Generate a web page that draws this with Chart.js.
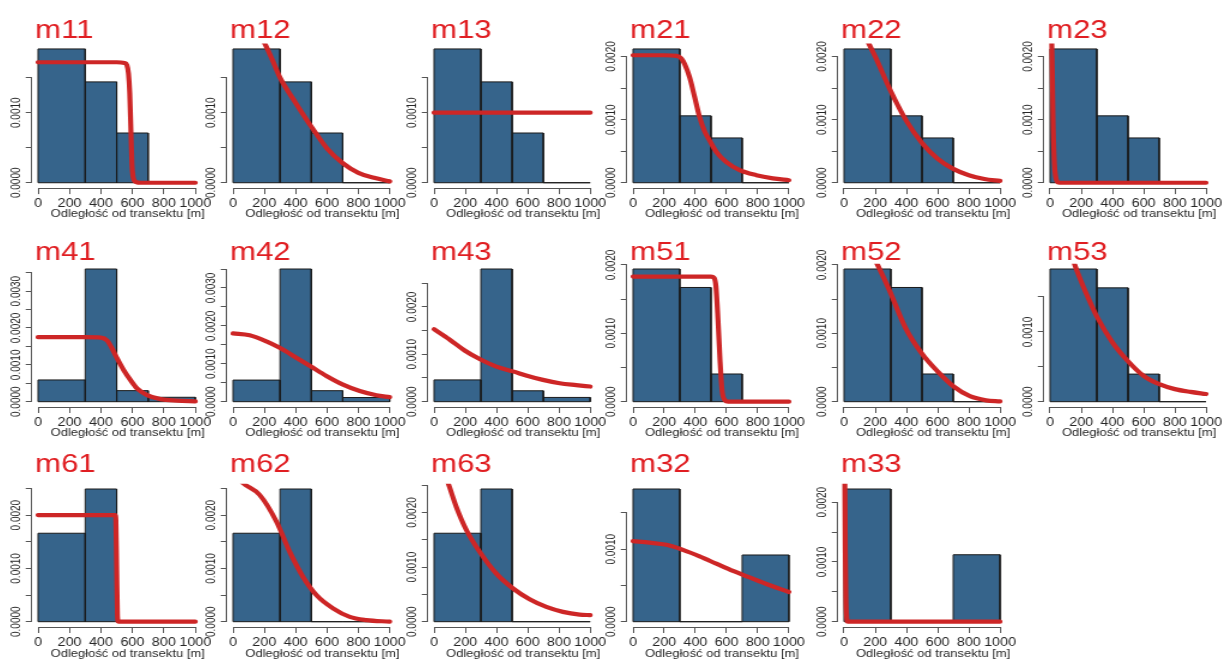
<!DOCTYPE html>
<html>
<head>
<meta charset="utf-8">
<script src="https://cdn.jsdelivr.net/npm/chart.js@4.4.1/dist/chart.umd.min.js"></script>
<style>
  html, body { margin: 0; padding: 0; background: #fff; }
  body { width: 1230px; height: 662px; position: relative; overflow: hidden; }
  canvas { position: absolute; transform-origin: 0 0; }
</style>
</head>
<body>
<script>
// bin edges of the histograms [m]
var edges4 = [0, 300, 500, 700, 1000];
var edges3 = [0, 300, 700, 1000];
var xTicks = [0, 200, 400, 600, 800, 1000];
var yStep = 0.0005;
var xTitle = 'Odległość od transektu [m]';

// histogram densities
var barsM1 = [0.00191, 0.00144, 0.00071, 0];
var barsM2 = [0.00212, 0.00106, 0.00071, 0];
var barsM41 = [0.00059, 0.0036, 0.0003, 0.00012];
var barsM42 = [0.00057, 0.0035, 0.00029, 0.00011];
var barsM43 = [0.00046, 0.0028, 0.00023, 0.00009];
var barsM5 = [0.00194, 0.00167, 0.000405, 0];
var barsM53 = [0.0019, 0.00163, 0.000395, 0];
var barsM6 = [0.00166, 0.00249, 0, 0];
var barsM63 = [0.00162, 0.00243, 0, 0];
var barsM32 = [0.00183, 0, 0.00092];
var barsM33 = [0.00222, 0, 0.00112];

// fitted detection functions
var curveXM11 = [0, 100, 200, 300, 400, 500, 550, 565, 575, 583, 591, 597, 604, 612, 625, 650, 700, 800, 900, 1000];
var curveYM11 = [0.00172, 0.00172, 0.00172, 0.00172, 0.00172, 0.00172, 0.00171, 0.00168, 0.00156, 0.00128, 0.00071, 0.00027, 0.00009, 0.00003, 0.00001, 0, 0, 0, 0, 0];
var curveXM12 = [0, 100, 200, 250, 300, 400, 500, 600, 700, 800, 900, 1000];
var curveYM12 = [0.0027, 0.0024, 0.002, 0.00176, 0.0015, 0.00114, 0.0008, 0.00049, 0.00028, 0.00014, 0.00007, 0.00002];
var curveXM13 = [0, 1000];
var curveYM13 = [0.001, 0.001];
var curveXM21 = [0, 100, 200, 280, 310, 331, 363, 395, 427, 460, 491, 534, 598, 684, 791, 897, 1000];
var curveYM21 = [0.00202, 0.00202, 0.00202, 0.00201, 0.00197, 0.00188, 0.00167, 0.00136, 0.00104, 0.00081, 0.00067, 0.00049, 0.00033, 0.0002, 0.00012, 0.00007, 0.00004];
var curveXM22 = [0, 100, 160, 200, 300, 400, 500, 600, 700, 800, 900, 1000];
var curveYM22 = [0.0029, 0.0025, 0.0022, 0.002, 0.00145, 0.00098, 0.00063, 0.00038, 0.00022, 0.00012, 0.00006, 0.00003];
var curveXM23 = [0, 8, 14, 20, 28, 36, 45, 60, 200, 1000];
var curveYM23 = [0.008, 0.003, 0.0018, 0.0009, 0.0003, 0.0001, 0.00002, 0, 0, 0];
var curveXM41 = [0, 100, 200, 300, 400, 439, 470, 502, 544, 587, 629, 693, 778, 883, 1000];
var curveYM41 = [0.00175, 0.00175, 0.00175, 0.00175, 0.00174, 0.00166, 0.00145, 0.00118, 0.00086, 0.00059, 0.00036, 0.00018, 0.00007, 0.00003, 0.00001];
var curveXM42 = [0, 106, 213, 298, 404, 500, 596, 702, 809, 915, 1000];
var curveYM42 = [0.0018, 0.00175, 0.00159, 0.00142, 0.00116, 0.00092, 0.00068, 0.00045, 0.00028, 0.00017, 0.00012];
var curveXM43 = [0, 100, 196, 292, 399, 505, 601, 697, 804, 910, 1000];
var curveYM43 = [0.00153, 0.00131, 0.00108, 0.0009, 0.00074, 0.00064, 0.00054, 0.00046, 0.00039, 0.00035, 0.00032];
var curveXM51 = [0, 100, 200, 300, 400, 500, 520, 532, 545, 558, 571, 590, 610, 700, 800, 900, 1000];
var curveYM51 = [0.00183, 0.00183, 0.00183, 0.00183, 0.00183, 0.00183, 0.00181, 0.00168, 0.0012, 0.00061, 0.00017, 0.00002, 0, 0, 0, 0, 0];
var curveXM52 = [0, 100, 209, 291, 394, 497, 601, 704, 807, 910, 1000];
var curveYM52 = [0.0028, 0.0025, 0.00203, 0.00163, 0.00108, 0.00071, 0.00044, 0.00022, 0.00008, 0.00002, 0.000005];
var curveXM53 = [0, 100, 154, 200, 250, 300, 400, 500, 600, 700, 800, 900, 1000];
var curveYM53 = [0.0029, 0.0024, 0.00199, 0.00172, 0.00146, 0.00122, 0.00085, 0.00058, 0.00037, 0.00025, 0.00018, 0.00014, 0.00011];
var curveXM61 = [0, 250, 490, 495, 500, 505, 510, 750, 1000];
var curveYM61 = [0.002, 0.002, 0.002, 0.0019, 0.001, 0.0001, 0, 0, 0];
var curveXM62 = [0, 64, 170, 277, 362, 447, 532, 638, 745, 851, 1000];
var curveYM62 = [0.0028, 0.0026, 0.00238, 0.00188, 0.00131, 0.00084, 0.0005, 0.00025, 0.00009, 0.00003, 0];
var curveXM63 = [0, 90, 143, 207, 292, 399, 505, 612, 719, 825, 932, 1000];
var curveYM63 = [0.0032, 0.00254, 0.0021, 0.00168, 0.00128, 0.00088, 0.00061, 0.00041, 0.00027, 0.00018, 0.00013, 0.00012];
var curveXM32 = [0, 107, 214, 320, 427, 534, 641, 748, 855, 1000];
var curveYM32 = [0.00111, 0.00109, 0.00106, 0.00099, 0.0009, 0.0008, 0.0007, 0.00061, 0.00052, 0.00041];
var curveXM33 = [0, 4, 8, 12, 16, 24, 1000];
var curveYM33 = [0.006, 0.0028, 0.0012, 0.0004, 0.0001, 0, 0];

var panels = [
    { name: 'm11', col: 0, row: 0, edges: edges4, bars: barsM1, cx: curveXM11, cy: curveYM11 },
    { name: 'm12', col: 1, row: 0, edges: edges4, bars: barsM1, cx: curveXM12, cy: curveYM12 },
    { name: 'm13', col: 2, row: 0, edges: edges4, bars: barsM1, cx: curveXM13, cy: curveYM13 },
    { name: 'm21', col: 3, row: 0, edges: edges4, bars: barsM2, cx: curveXM21, cy: curveYM21 },
    { name: 'm22', col: 4, row: 0, edges: edges4, bars: barsM2, cx: curveXM22, cy: curveYM22 },
    { name: 'm23', col: 5, row: 0, edges: edges4, bars: barsM2, cx: curveXM23, cy: curveYM23 },
    { name: 'm41', col: 0, row: 1, edges: edges4, bars: barsM41, cx: curveXM41, cy: curveYM41 },
    { name: 'm42', col: 1, row: 1, edges: edges4, bars: barsM42, cx: curveXM42, cy: curveYM42 },
    { name: 'm43', col: 2, row: 1, edges: edges4, bars: barsM43, cx: curveXM43, cy: curveYM43 },
    { name: 'm51', col: 3, row: 1, edges: edges4, bars: barsM5, cx: curveXM51, cy: curveYM51 },
    { name: 'm52', col: 4, row: 1, edges: edges4, bars: barsM5, cx: curveXM52, cy: curveYM52 },
    { name: 'm53', col: 5, row: 1, edges: edges4, bars: barsM53, cx: curveXM53, cy: curveYM53 },
    { name: 'm61', col: 0, row: 2, edges: edges4, bars: barsM6, cx: curveXM61, cy: curveYM61 },
    { name: 'm62', col: 1, row: 2, edges: edges4, bars: barsM6, cx: curveXM62, cy: curveYM62 },
    { name: 'm63', col: 2, row: 2, edges: edges4, bars: barsM63, cx: curveXM63, cy: curveYM63 },
    { name: 'm32', col: 3, row: 2, edges: edges3, bars: barsM32, cx: curveXM32, cy: curveYM32 },
    { name: 'm33', col: 4, row: 2, edges: edges3, bars: barsM33, cx: curveXM33, cy: curveYM33 }
];

// page layout (pixels); the original figure is stretched sideways
var K = 1.2;
var colX0 = [37.7, 233.3, 434.3, 633.4, 844, 1050];
var colX1 = [195, 390, 590.5, 789.3, 1000, 1206];
var rowTop = [0, 220, 440];
var rowBottom = [220, 440, 662];
var rowPlotTop = [43.6, 263.7, 483.7];
var rowPlotBottom = [188.1, 407, 627];
var rowTitleBase = [37.5, 260, 471.7];
var rowXTitleMid = [214, 433, 654];

var BAR = '#36648b';
var CURVE = '#cd2626';
var TITLE = '#e01e22';
var AXIS = '#555';
var TXT = '#262626';
var FONT = '"Liberation Sans", Arial, sans-serif';
var Y_FONT = 10;
Chart.defaults.font.family = FONT;

// R style axis lines (first to last tick only) and the x axis caption
var rAxes = {
    id: 'rAxes',
    afterDraw: function(chart, args, opts) {
        var ctx = chart.ctx, xs = chart.scales.x, ys = chart.scales.y, a = chart.chartArea;
        ctx.save();
        ctx.strokeStyle = AXIS;
        ctx.lineWidth = 1;
        ctx.beginPath();
        var yb = Math.round(a.bottom) + 0.5;
        ctx.moveTo(xs.getPixelForValue(xs.ticks[0].value), yb);
        ctx.lineTo(xs.getPixelForValue(xs.ticks[xs.ticks.length - 1].value), yb);
        var xl = Math.round(a.left) - 0.5;
        ctx.moveTo(xl, ys.getPixelForValue(ys.ticks[0].value));
        ctx.lineTo(xl, ys.getPixelForValue(ys.ticks[ys.ticks.length - 1].value));
        ctx.stroke();

        ctx.fillStyle = TXT;
        ctx.font = '10.8px ' + FONT;
        ctx.textAlign = 'center';
        ctx.textBaseline = 'middle';
        ctx.fillText(xTitle, xs.getPixelForValue(500) + 11 / K, opts.titleMid);
        ctx.restore();
    }
};

// red panel name above the plot
var panelTitle = {
    id: 'panelTitle',
    afterDraw: function(chart, args, opts) {
        var ctx = chart.ctx;
        ctx.save();
        ctx.fillStyle = TITLE;
        ctx.font = '26px ' + FONT;
        ctx.textAlign = 'left';
        ctx.textBaseline = 'alphabetic';
        ctx.fillText(opts.text, chart.scales.x.getPixelForValue(0) - 2.5, opts.baseline);
        ctx.restore();
    }
};

function yLabel(v) {
    var t = v * 1000;
    return Math.abs(t - Math.round(t)) < 1e-6 ? v.toFixed(4) : '';
}

function makePanel(p) {
    var x0 = colX0[p.col], x1 = colX1[p.col], w = x1 - x0;
    var left = x0 - 36, right = x1 + 32;
    var top = rowTop[p.row], bottom = rowBottom[p.row];
    var cw = Math.round((right - left) / K), ch = bottom - top;

    var canvas = document.createElement('canvas');
    canvas.width = cw;
    canvas.height = ch;
    canvas.style.left = left + 'px';
    canvas.style.top = top + 'px';
    canvas.style.width = cw + 'px';
    canvas.style.height = ch + 'px';
    canvas.style.transform = 'scaleX(' + K + ')';
    document.body.appendChild(canvas);

    var areaL = (x0 - 0.04 * w - left) / K;
    var areaR = (x1 + 0.04 * w - left) / K;
    var areaT = rowPlotTop[p.row] - top;
    var areaB = rowPlotBottom[p.row] - top;
    var yAxisW = 20;
    var ymax = Math.max.apply(null, p.bars);

    var datasets = [{
        data: p.cx.map(function(x, i) { return { x: x, y: p.cy[i] }; }),
        borderColor: CURVE,
        borderWidth: 4.2,
        borderCapStyle: 'round',
        borderJoinStyle: 'round',
        cubicInterpolationMode: 'monotone',
        capBezierPoints: false,
        pointRadius: 0,
        fill: false,
        order: 0
    }, {
        // bottom edge of the histogram
        data: [{ x: p.edges[0], y: 0 }, { x: p.edges[p.edges.length - 1], y: 0 }],
        borderColor: '#1a1a1a',
        borderWidth: 1,
        pointRadius: 0,
        fill: false,
        order: 1
    }];
    p.bars.forEach(function(h, i) {
        var a = p.edges[i], b = p.edges[i + 1];
        datasets.push({
            data: [{ x: a, y: 0 }, { x: a, y: h }, { x: b, y: h }, { x: b, y: 0 }],
            backgroundColor: BAR,
            borderColor: '#1a1a1a',
            borderWidth: 1,
            pointRadius: 0,
            tension: 0,
            fill: 'origin',
            order: 2
        });
    });

    new Chart(canvas, {
        type: 'line',
        data: { datasets: datasets },
        options: {
            responsive: false,
            animation: false,
            events: [],
            layout: { padding: { left: areaL - yAxisW, right: cw - areaR, top: areaT, bottom: 0 } },
            plugins: {
                legend: { display: false },
                tooltip: { enabled: false },
                rAxes: { titleMid: rowXTitleMid[p.row] - top },
                panelTitle: { text: p.name, baseline: rowTitleBase[p.row] - top }
            },
            scales: {
                x: {
                    type: 'linear',
                    min: -40,
                    max: 1040,
                    afterBuildTicks: function(s) { s.ticks = xTicks.map(function(v) { return { value: v }; }); },
                    afterFit: function(s) { s.height = ch - areaB; },
                    grid: { drawOnChartArea: false, drawTicks: true, tickLength: 6, color: AXIS },
                    border: { display: false },
                    ticks: {
                        autoSkip: false,
                        maxRotation: 0,
                        padding: 2,
                        color: TXT,
                        font: { size: 12 },
                        callback: function(v) { return String(v); }
                    }
                },
                y: {
                    type: 'linear',
                    min: -0.04 * ymax,
                    max: 1.04 * ymax,
                    afterBuildTicks: function(s) {
                        var t = [];
                        for (var i = 0; i * yStep <= s.max + 1e-12; i++) t.push({ value: +(i * yStep).toFixed(6) });
                        s.ticks = t;
                    },
                    afterFit: function(s) { s.width = yAxisW; },
                    grid: { drawOnChartArea: false, drawTicks: true, tickLength: 5, color: AXIS },
                    border: { display: false },
                    ticks: {
                        autoSkip: false,
                        minRotation: 90,
                        maxRotation: 90,
                        crossAlign: 'near',
                        padding: 7.5,
                        labelOffset: -Y_FONT * 3.058 / 2,
                        color: TXT,
                        font: { size: Y_FONT },
                        callback: yLabel
                    }
                }
            }
        },
        plugins: [rAxes, panelTitle]
    });
}

panels.forEach(makePanel);
</script>
</body>
</html>
